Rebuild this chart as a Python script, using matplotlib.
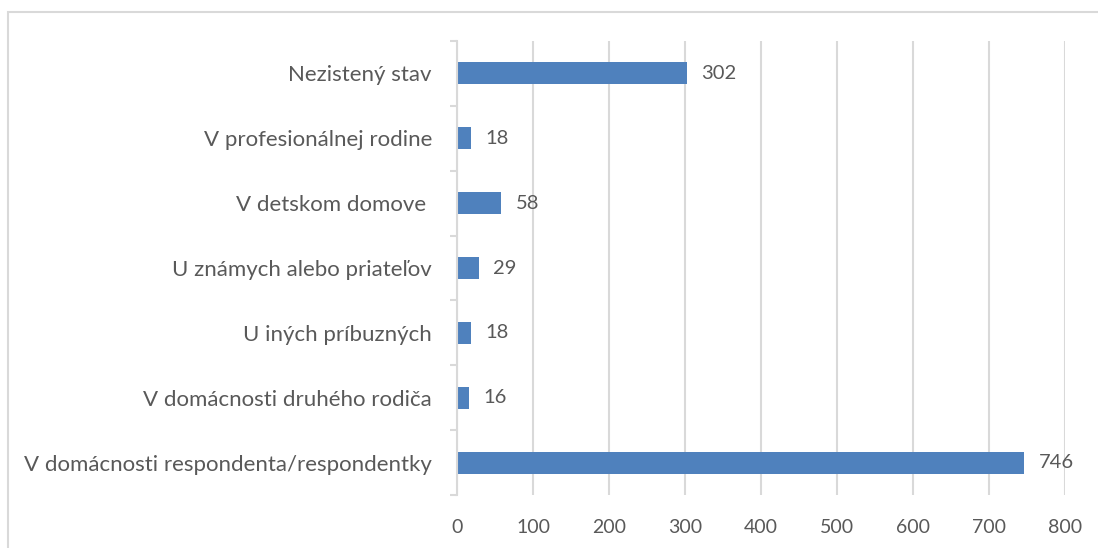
import matplotlib.pyplot as plt
from matplotlib.patches import Rectangle

# data (bottom to top)
categories = ["V domácnosti respondenta/respondentky", "V domácnosti druhého rodiča",
              "U iných príbuzných", "U známych alebo priateľov", "V detskom domove ",
              "V profesionálnej rodine", "Nezistený stav"]
values = [746, 16, 18, 29, 58, 18, 302]
xticks = [0, 100, 200, 300, 400, 500, 600, 700, 800]

plt.rcParams['font.family'] = ['Lato', 'DejaVu Sans']
txt = '#595959'
grid = '#D9D9D9'

fig = plt.figure(figsize=(10.98, 5.48), dpi=100)
ax = fig.add_axes([457/1098, 1 - 495/548, (1065 - 457)/1098, (495 - 41)/548])

ypos = list(range(len(categories)))
ax.barh(ypos, values, height=0.34, color='#4F81BD', zorder=3)
for y, v in zip(ypos, values):
    ax.text(v + 19, y, str(v), va='center', ha='left', fontsize=14.5, color=txt)

ax.set_xlim(0, 800)
ax.set_ylim(-0.5, len(categories) - 0.5)
ax.set_xticks(xticks)
ax.set_xticklabels([str(t) for t in xticks], fontsize=14, color=txt)
ax.tick_params(axis='x', length=0, pad=17)
ax.xaxis.grid(True, color=grid, linewidth=1.5, zorder=0)

ax.set_yticks(ypos)
ax.set_yticklabels(categories, fontsize=16, color=txt)
ax.tick_params(axis='y', length=0, pad=18)
# minor ticks at category boundaries
ax.set_yticks([y - 0.5 for y in range(len(categories) + 1)], minor=True)
ax.tick_params(axis='y', which='minor', length=5, color=grid, width=1.5)

for s in ['top', 'right', 'bottom']:
    ax.spines[s].set_visible(False)
ax.spines['left'].set_color(grid)
ax.spines['left'].set_linewidth(1.5)
ax.spines['left'].set_zorder(4)

fig.patches.append(Rectangle((8/1098, -0.1), 1.2, 1 - 12/548 + 0.1, transform=fig.transFigure,
                             fill=False, edgecolor=grid, linewidth=1.5))

fig.savefig('out.png', dpi=100)
